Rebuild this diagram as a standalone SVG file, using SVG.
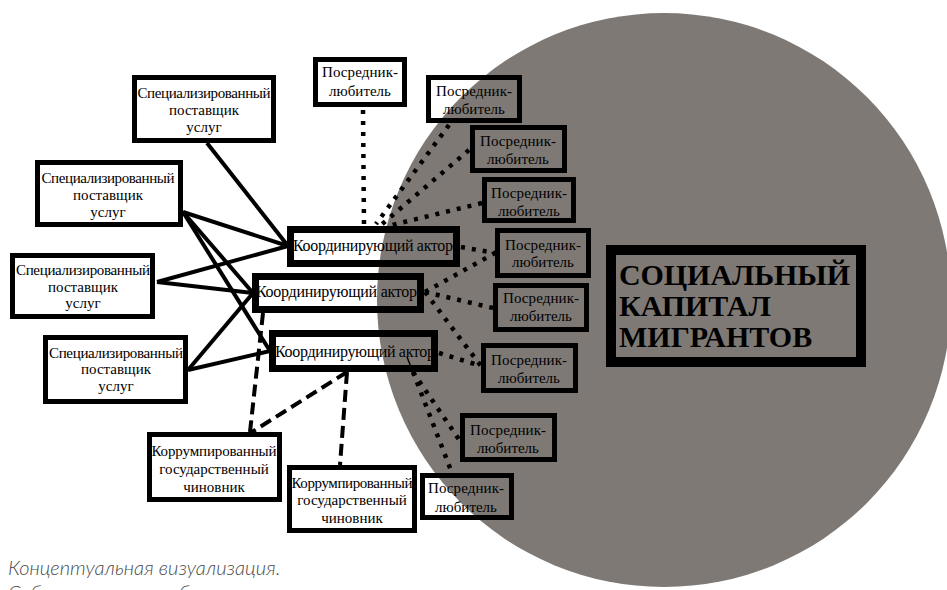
<svg xmlns="http://www.w3.org/2000/svg" width="947" height="590" viewBox="0 0 947 590">
<style>
.bg{fill:#ffffff}
.cap{fill:#7e7975}
.box{fill:none;stroke:#000}
.sp{stroke-width:5}
.ca{stroke-width:7}
.pl{stroke-width:5}
.co{stroke-width:5}
.scm{stroke-width:10}
.t{font-size:15px;fill:#000;text-anchor:middle}
.ta{font-size:16px;fill:#000}
.big{font-size:30px;font-weight:bold;fill:#000}
.solid{stroke:#000;stroke-width:4;fill:none}
.dash{stroke:#000;stroke-width:4;fill:none;stroke-dasharray:12 6}
.dot{stroke:#000;stroke-width:4.5;fill:none;stroke-dasharray:4 7}
.thin{stroke:#000;stroke-width:1.5;fill:none}
.caption{font-style:italic;font-weight:300;font-size:20px;fill:#4a4a4a}
</style>
<rect class="bg" x="0" y="0" width="947" height="590"/>
<circle id="social-capital-area" class="cap" cx="664" cy="300" r="287"/>

<g id="connectors">
  <line class="solid" x1="207" y1="143" x2="288" y2="246"/>
  <line class="solid" x1="183" y1="212" x2="288" y2="246"/>
  <line class="solid" x1="183" y1="212" x2="253" y2="293"/>
  <line class="solid" x1="183" y1="212" x2="270" y2="351"/>
  <line class="solid" x1="157" y1="282" x2="288" y2="246"/>
  <line class="solid" x1="157" y1="282" x2="253" y2="293"/>
  <line class="solid" x1="188" y1="370" x2="253" y2="293"/>
  <line class="solid" x1="188" y1="370" x2="270" y2="351"/>

  <line class="dash" x1="263" y1="313" x2="250" y2="432"/>
  <line class="dash" x1="347" y1="372" x2="252" y2="432"/>
  <line class="dash" x1="347" y1="372" x2="340" y2="465"/>

  <line class="dot" x1="363" y1="110" x2="364" y2="226"/>
  <line class="dot" x1="449" y1="125" x2="376" y2="224"/>
  <line class="dot" x1="469" y1="150" x2="381" y2="225"/>
  <line class="dot" x1="482" y1="203" x2="388" y2="226"/>
  <line class="dot" x1="461" y1="247" x2="495" y2="253"/>
  <line class="dot" x1="425" y1="292" x2="495" y2="253"/>
  <line class="dot" x1="425" y1="292" x2="493" y2="308"/>
  <line class="dot" x1="425" y1="292" x2="481" y2="366"/>
  <line class="dot" x1="439" y1="353" x2="481" y2="366"/>
  <line class="thin" x1="407" y1="357" x2="413" y2="372"/>
  <line class="dot" x1="413" y1="372" x2="460" y2="441"/>
  <line class="dot" x1="413" y1="372" x2="452" y2="473"/>
</g>

<g id="nodes" font-family="Liberation Serif, Tinos, Times New Roman, DejaVu Serif, serif">
<g id="sp1"><rect class="box sp" x="134.5" y="77.5" width="139" height="63"/>
  <text class="t" x="204" y="98" textLength="133">Специализированный</text><text class="t" x="204" y="115">поставщик</text><text class="t" x="204" y="132">услуг</text></g>
<g id="sp2"><rect class="box sp" x="37.5" y="162.5" width="143" height="62"/>
  <text class="t" x="108" y="183" textLength="133">Специализированный</text><text class="t" x="108" y="200">поставщик</text><text class="t" x="108" y="217">услуг</text></g>
<g id="sp3"><rect class="box sp" x="12.5" y="255.5" width="140" height="61"/>
  <text class="t" x="83" y="275" textLength="134">Специализированный</text><text class="t" x="83" y="292">поставщик</text><text class="t" x="83" y="308">услуг</text></g>
<g id="sp4"><rect class="box sp" x="45.5" y="337.5" width="140" height="64"/>
  <text class="t" x="116" y="358" textLength="134">Специализированный</text><text class="t" x="116" y="374">поставщик</text><text class="t" x="116" y="391">услуг</text></g>

<g id="ca1"><rect class="box ca" x="290.5" y="229.5" width="166" height="34"/>
  <text class="ta" x="293" y="251" textLength="160">Координирующий актор</text></g>
<g id="ca2"><rect class="box ca" x="255.5" y="276.5" width="165" height="33"/>
  <text class="ta" x="256" y="297" textLength="161">Координирующий актор</text></g>
<g id="ca3"><rect class="box ca" x="272.5" y="333.5" width="162" height="35"/>
  <text class="ta" x="275" y="357" textLength="160">Координирующий актор</text></g>

<g id="p0"><rect class="box pl" x="315.5" y="59.5" width="89" height="45"/>
  <text class="t" x="360" y="77" textLength="76">Посредник-</text><text class="t" x="360" y="96">любитель</text></g>
<g id="p1"><rect class="box pl" x="428.5" y="77.5" width="91" height="43"/>
  <text class="t" x="474" y="96" textLength="76">Посредник-</text><text class="t" x="474" y="114">любитель</text></g>
<g id="p2"><rect class="box pl" x="472.5" y="127.5" width="92" height="43"/>
  <text class="t" x="518" y="146" textLength="76">Посредник-</text><text class="t" x="518" y="164">любитель</text></g>
<g id="p3"><rect class="box pl" x="484.5" y="179.5" width="89" height="41"/>
  <text class="t" x="529" y="198" textLength="76">Посредник-</text><text class="t" x="529" y="216">любитель</text></g>
<g id="p4"><rect class="box pl" x="497.5" y="230.5" width="91" height="45"/>
  <text class="t" x="543" y="250" textLength="76">Посредник-</text><text class="t" x="543" y="267">любитель</text></g>
<g id="p5"><rect class="box pl" x="495.5" y="285.5" width="91" height="44"/>
  <text class="t" x="541" y="303" textLength="76">Посредник-</text><text class="t" x="541" y="321">любитель</text></g>
<g id="p6"><rect class="box pl" x="483.5" y="345.5" width="92" height="45"/>
  <text class="t" x="529" y="365" textLength="76">Посредник-</text><text class="t" x="529" y="383">любитель</text></g>
<g id="p7"><rect class="box pl" x="462.5" y="415.5" width="92" height="44"/>
  <text class="t" x="508" y="435" textLength="76">Посредник-</text><text class="t" x="508" y="453">любитель</text></g>
<g id="p8"><rect class="box pl" x="422.5" y="475.5" width="89" height="42"/>
  <text class="t" x="466" y="493" textLength="76">Посредник-</text><text class="t" x="466" y="512">любитель</text></g>

<g id="co1"><rect class="box co" x="149.5" y="434.5" width="130" height="65"/>
  <text class="t" x="214" y="456" textLength="125">Коррумпированный</text><text class="t" x="214" y="474">государственный</text><text class="t" x="214" y="492">чиновник</text></g>
<g id="co2"><rect class="box co" x="289.5" y="467.5" width="125" height="63"/>
  <text class="t" x="352" y="488" textLength="121">Коррумпированный</text><text class="t" x="352" y="505">государственный</text><text class="t" x="352" y="523">чиновник</text></g>

<g id="social-capital"><rect class="box scm" x="611" y="250" width="250" height="112"/>
  <text class="big" x="619" y="285" textLength="231">СОЦИАЛЬНЫЙ</text><text class="big" x="619" y="316">КАПИТАЛ</text><text class="big" x="619" y="347">МИГРАНТОВ</text></g>
</g>

<g id="caption" font-family="Lato, Open Sans, Noto Sans, sans-serif">
  <text class="caption" x="8" y="575">Концептуальная визуализация.</text>
  <text class="caption" x="8" y="600">Собственная разработка автора.</text>
</g>
</svg>
